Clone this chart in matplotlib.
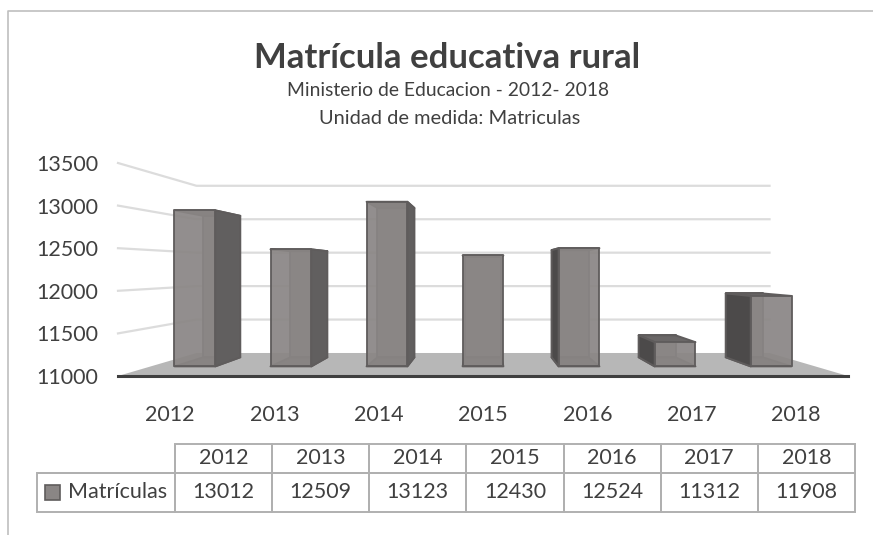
import matplotlib
matplotlib.use("Agg")
import matplotlib.pyplot as plt
from matplotlib.lines import Line2D
from matplotlib.patches import Polygon, Rectangle

plt.rcParams['font.family'] = ['Lato', 'DejaVu Sans']

years = ['2012', '2013', '2014', '2015', '2016', '2017', '2018']
matriculas = [13012, 12509, 13123, 12430, 12524, 11312, 11908]
y_ticks = [11000, 11500, 12000, 12500, 13000, 13500]
series_name = 'Matrículas'

W, H = 873, 535
TXT = '#404040'
GRID = '#dcdcdc'

# perspective: everything shrinks toward the vanishing point as it goes back
VX, VY = 3, 12256
S_WALL, S_FRONT, S_BACK = 0.785, 0.91, 0.825
HALF = 0.215
SPREAD = 1.012  # bars sit a bit further apart than the category centres


def project(x, v, s):
    return VX + (x - VX) * s, VY + (v - VY) * s


def px_axes(left, top, right, bottom):
    return fig.add_axes([left / W, 1 - bottom / H, (right - left) / W, (bottom - top) / H])


fig = plt.figure(figsize=(W / 100, H / 100), dpi=100)

# chart border, only top and left show
fig.add_artist(Line2D([8 / W, 8 / W, 1], [0, 1 - 11 / H, 1 - 11 / H], color='#bfbfbf', lw=1.2))

fig.text(447 / W, 1 - 58 / H, 'Matrícula educativa rural', ha='center', va='center',
         fontsize=25, fontweight='bold', color=TXT)
fig.text(448 / W, 1 - 91 / H, 'Ministerio de Educacion - 2012- 2018', ha='center', va='center',
         fontsize=13.9, color=TXT)
fig.text(450 / W, 1 - 118 / H, 'Unidad de medida: Matriculas', ha='center', va='center',
         fontsize=14.4, color=TXT)

ax = px_axes(118, 163, 848, 376)
ax.set_xlim(-0.5, 6.5)
ax.set_ylim(y_ticks[0], y_ticks[-1])
for sp in ax.spines.values():
    sp.set_visible(False)
ax.patch.set_visible(False)
ax.set_xticks(range(len(years)), years)
ax.set_yticks(y_ticks)
ax.tick_params(length=0, labelsize=15.5, labelcolor=TXT)
ax.tick_params(axis='x', pad=21)
ax.tick_params(axis='y', pad=14)

# floor
x0, x1 = ax.get_xlim()
base = y_ticks[0]
floor = [project(x0, base, 1), project(x1, base, 1), project(x1, base, S_WALL), project(x0, base, S_WALL)]
ax.add_patch(Polygon(floor, fc='#b7b7b7', ec='none', zorder=1))
ax.plot([x0, x1], [base, base], color='#3f3f3f', lw=2.2, zorder=2, clip_on=False)

# gridlines: side wall then back wall
for t in y_ticks[1:]:
    a = project(x0, t, 1)
    b = project(x0, t, S_WALL)
    c = project(x1, t, S_WALL)
    ax.plot([a[0], b[0], c[0]], [a[1], b[1], c[1]], color=GRID, lw=1.6, zorder=1, clip_on=False)


def face(pts, color, z, alpha=1.0):
    ax.add_patch(Polygon(pts, fc=color, ec='#5f5c5c', lw=1.4, alpha=alpha, zorder=z,
                         joinstyle='round', clip_on=False))


for i, v in enumerate(matriculas):
    xc = VX + (i - VX) * SPREAD
    xl, xr = xc - HALF, xc + HALF
    fbl, fbr = project(xl, base, S_FRONT), project(xr, base, S_FRONT)
    ftl, ftr = project(xl, v, S_FRONT), project(xr, v, S_FRONT)
    bbl, bbr = project(xl, base, S_BACK), project(xr, base, S_BACK)
    btl, btr = project(xl, v, S_BACK), project(xr, v, S_BACK)
    z = 3
    face([bbl, bbr, btr, btl], '#8a8685', z)
    face([fbl, fbr, bbr, bbl], '#6f6c6c', z + 0.1)
    face([ftl, ftr, btr, btl], '#6a6767', z + 0.2)
    if i < 3:
        face([fbr, bbr, btr, ftr], '#615f5f', z + 0.3)
    elif i > 3:
        face([fbl, bbl, btl, ftl], '#4c4a4a', z + 0.3)
    face([fbl, fbr, ftr, ftl], '#8a8685', z + 0.4, alpha=0.93)

# data table under the chart
tx = px_axes(37, 444, 855, 512)
tx.axis('off')
tx.set_xlim(0, 1)
tx.set_ylim(0, 1)
first_col = 138 / 818
col = (1 - first_col) / len(years)
cells = [[''] + years, [series_name] + [str(m) for m in matriculas]]
tb = tx.table(cellText=cells, colWidths=[first_col] + [col] * len(years),
              bbox=[0, 0, 1, 1], cellLoc='center')
tb.auto_set_font_size(False)
tb.set_fontsize(15.5)
for (r, c), cell in tb.get_celld().items():
    cell.set_edgecolor('#b0b0b0')
    cell.set_linewidth(1.4)
    cell.set_height(29 if r == 0 else 39)
    cell.get_text().set_color(TXT)
    cell.set_facecolor('none')
    cell.PAD = 0.02
tb[0, 0].visible_edges = 'BR'
tb[1, 0].set_text_props(ha='right')
tb[1, 0].PAD = 0.055
tx.add_patch(Rectangle((8 / 818, 12 / 68), 15 / 818, 15 / 68, transform=tx.transAxes,
                       fc='#8a8685', ec='#5f5c5c', lw=1.2, zorder=5))

fig.savefig('out.png', dpi=100)
